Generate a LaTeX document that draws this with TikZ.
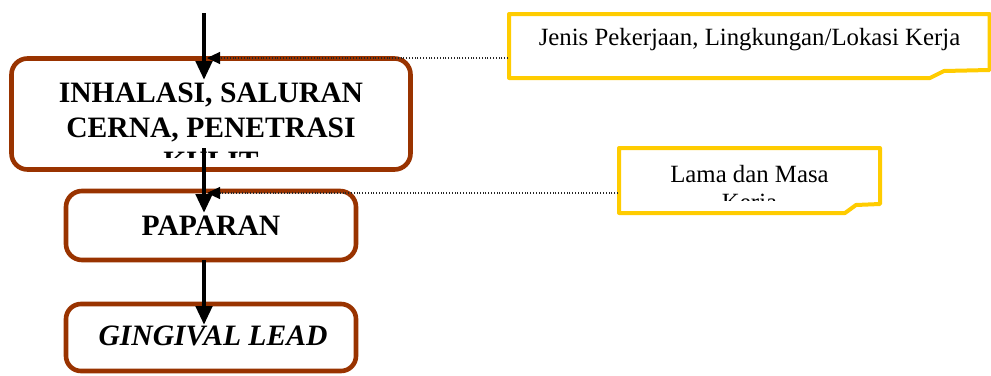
\documentclass[tikz,border=0pt]{standalone}
\usepackage{fontspec}
\setmainfont{Liberation Serif}
\usetikzlibrary{arrows.meta}
\definecolor{boxbrown}{HTML}{993300}
\definecolor{noteyellow}{HTML}{FFCC00}
\tikzset{
  flowbox/.style={draw=boxbrown, line width=2.3pt, rounded corners=8pt, fill=white,
    inner sep=0pt, outer sep=0pt},
  boxtext/.style={anchor=base, inner sep=0pt, font=\fontsize{14.8}{17.5}\selectfont\bfseries},
  notetext/.style={anchor=base, inner sep=0pt, font=\fontsize{12.4}{14}\selectfont},
  note/.style={draw=noteyellow, line width=2pt, fill=white, line join=round},
  flow/.style={line width=2.3pt, -{Triangle[length=9.5pt,width=8pt]}},
  leader/.style={line width=0.55pt, draw=black!85, dash pattern=on 0.55pt off 0.85pt,
    -{Triangle[length=6.5pt,width=6pt,black]}}
}
\begin{document}
\begin{tikzpicture}[x=0.5pt,y=-0.5pt]
  \fill[white] (0,0) rectangle (991,375);
  \useasboundingbox (0,0) rectangle (991,375);

  % process boxes
  \node[flowbox, minimum width=199.5pt, minimum height=55.5pt] (route) at (211,114) {};
  \node[flowbox, minimum width=145pt, minimum height=34.5pt] (expo) at (211,225.5) {};
  \node[flowbox, minimum width=145pt, minimum height=33.5pt, rounded corners=7.5pt] (lead) at (211,337.5) {};

  % box labels (the first box cuts off its third line)
  \begin{scope}
    \clip (20,66) rectangle (402,157.5);
    \node[boxtext] (r1) at (211,102) {INHALASI, SALURAN};
    \node[boxtext] (r2) at (211,137) {CERNA, PENETRASI};
    \node[boxtext] (r3) at (211,171) {KULIT};
  \end{scope}
  \node[boxtext] (e1) at (211,235) {PAPARAN};
  \node[boxtext] (l1) at (213,345) {\itshape GINGIVAL LEAD};

  % notes with folded corner
  \draw[note] (509,14) -- (989.5,14) -- (989.5,70) -- (944,71) -- (930,78) -- (509,78) -- cycle;
  \node[notetext] (n1) at (749.5,45) {Jenis Pekerjaan, Lingkungan/Lokasi Kerja};

  \draw[note] (619,148) -- (880,148) -- (880,204) -- (856,205) -- (845,213) -- (619,213) -- cycle;
  \begin{scope}
    \clip (625,152) rectangle (875,200);
    \node[notetext] (n2a) at (749.5,182) {Lama dan Masa};
    \node[notetext] (n2b) at (749.5,210) {Kerja};
  \end{scope}

  % leader lines from the notes
  \coordinate (c1) at (508,58);
  \coordinate (p1) at (207,58);
  \coordinate (c2) at (618,193);
  \coordinate (p2) at (207,193);
  \draw[leader] (c1) -- (p1);
  \draw[leader] (c2) -- (p2);

  % flow arrows
  \coordinate (a0) at (204,13);
  \coordinate (a1) at (204,80);
  \coordinate (b0) at (204,148);
  \coordinate (b1) at (204,213);
  \coordinate (d0) at (204,260);
  \coordinate (d1) at (204,325);
  \draw[flow] (a0) -- (a1);
  \draw[flow] (b0) -- (b1);
  \draw[flow] (d0) -- (d1);
\end{tikzpicture}
\end{document}
